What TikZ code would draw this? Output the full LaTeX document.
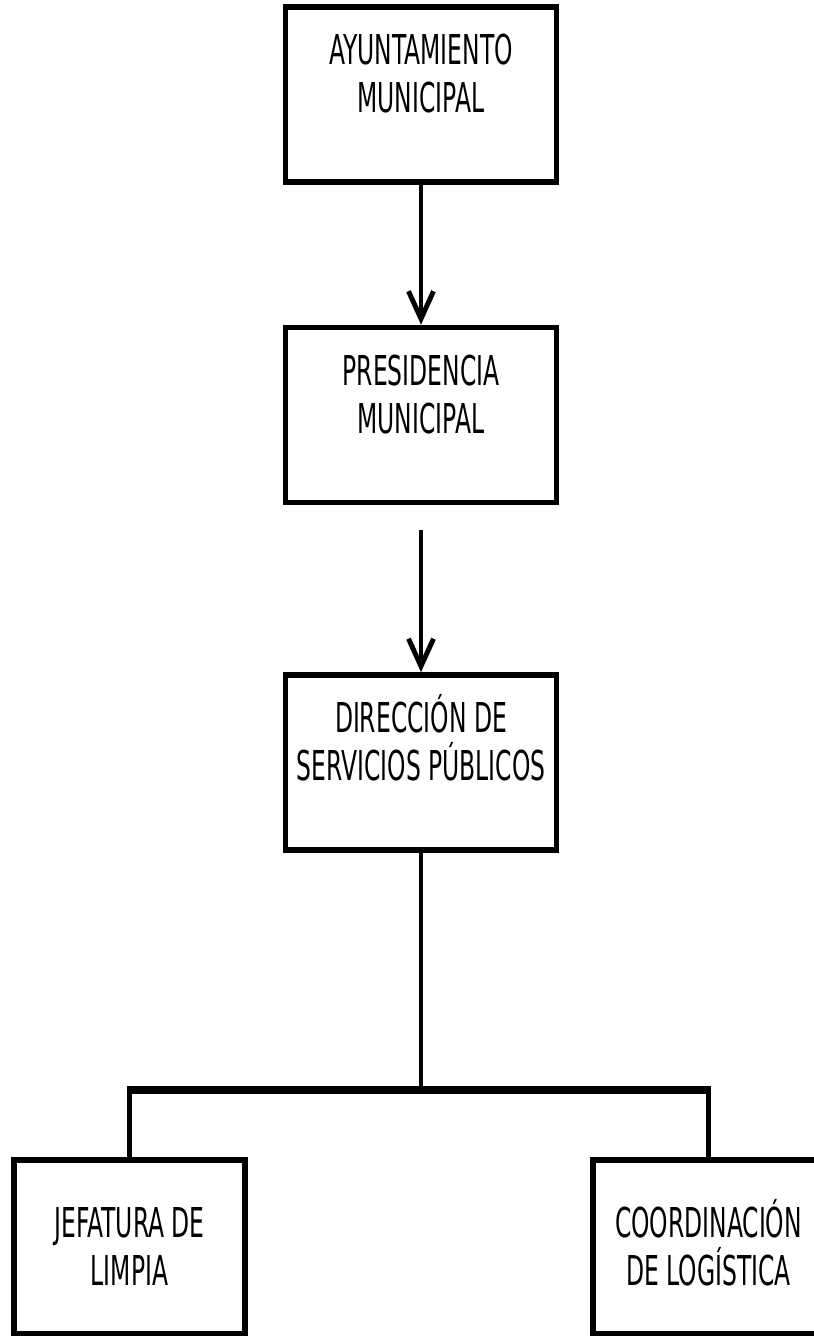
\documentclass[tikz,border=0pt]{standalone}
\usepackage{fontspec}
\setmainfont{DejaVu Sans}[FakeStretch=0.57]
\usepackage{tikz}
\usetikzlibrary{arrows.meta,positioning}
\tikzstyle{unidad} = [draw, line width=3.2pt, rectangle, inner sep=0pt, align=flush center, text width=5.42cm, text height=1.16cm, text depth=2.34cm, font=\fontsize{23.4pt}{27.3pt}\selectfont]
\tikzstyle{subunidad} = [unidad, text width=4.62cm, text height=1.56cm, text depth=1.92cm]
\tikzstyle{flecha} = [line width=2.8pt, -{Straight Barb[length=5.5mm,width=5mm]}]
\tikzstyle{rama} = [line width=2.8pt]
\tikzstyle{barra} = [line width=4.6pt, shorten <=-1.4pt, shorten >=-1.4pt]

\begin{document}
\begin{tikzpicture}
\useasboundingbox (0,0) rectangle (16.28,26.72);

% Units
\node[unidad] (ayuntamiento) at (8.42,24.83) {AYUNTAMIENTO\\MUNICIPAL};
\node[unidad] (presidencia) at (8.42,18.42) {PRESIDENCIA\\MUNICIPAL};
\node[unidad] (direccion) at (8.42,11.47) {DIRECCIÓN DE\\SERVICIOS PÚBLICOS};
\node[subunidad] (jefatura) at (2.59,1.78) {JEFATURA DE\\LIMPIA};
\node[subunidad] (coordinacion) at (14.17,1.78) {COORDINACIÓN\\DE LOGÍSTICA};

% Arrows
\draw[flecha] (ayuntamiento) -- (presidencia);
\draw[flecha, shorten <=0.5cm] (presidencia) -- (direccion);

% Branches
\coordinate (cruce) at (8.42,4.92);
\draw[rama] (direccion) -- (cruce);
\draw[rama] (jefatura) -- (jefatura |- cruce);
\draw[rama] (coordinacion) -- (coordinacion |- cruce);
\draw[barra] (jefatura |- cruce) -- (coordinacion |- cruce);
\end{tikzpicture}
\end{document}
